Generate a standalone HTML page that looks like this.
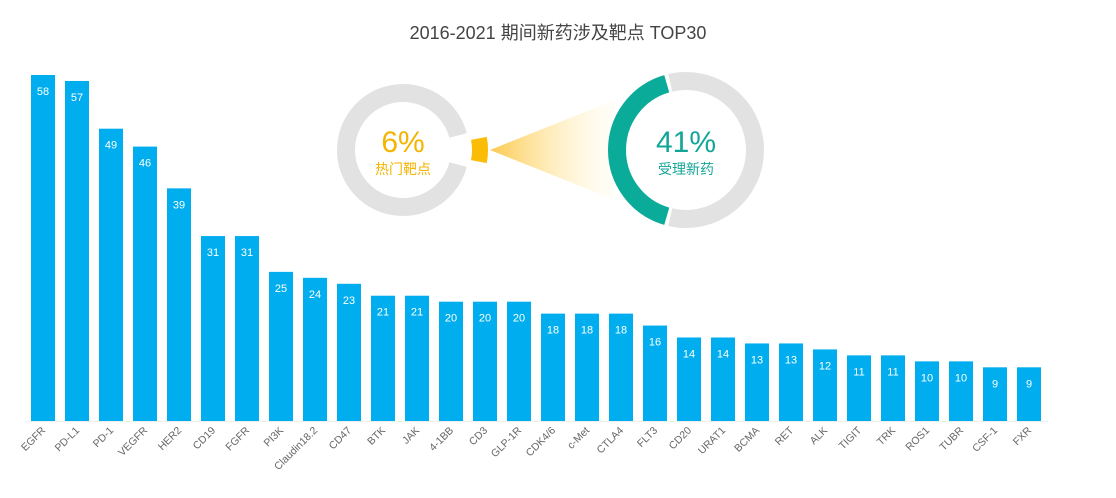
<!DOCTYPE html>
<html><head><meta charset="utf-8"><style>
html,body{margin:0;padding:0;background:#fff;}
svg{display:block;font-family:"Liberation Sans","Noto Sans CJK SC",sans-serif;}
</style></head><body>
<svg id="chart" width="1116" height="498" viewBox="0 0 1116 498">
<defs>
<linearGradient id="cone" x1="0" y1="0" x2="1" y2="0">
<stop offset="0" stop-color="#fbc02d" stop-opacity="0.85"/>
<stop offset="1" stop-color="#fff3c4" stop-opacity="0.1"/>
</linearGradient>
</defs>
<text x="558" y="39" text-anchor="middle" font-size="18" fill="#444">2016-2021 期间新药涉及靶点 TOP30</text>
<line x1="25" y1="421.5" x2="1048" y2="421.5" stroke="#eee"/>
<g id="bars"></g>
<g id="donuts"></g>
</svg>
<script>
const categories=["EGFR","PD-L1","PD-1","VEGFR","HER2","CD19","FGFR","PI3K","Claudin18.2","CD47","BTK","JAK","4-1BB","CD3","GLP-1R","CDK4/6","c-Met","CTLA4","FLT3","CD20","URAT1","BCMA","RET","ALK","TIGIT","TRK","ROS1","TUBR","CSF-1","FXR"];
const values=[58,57,49,46,39,31,31,25,24,23,21,21,20,20,20,18,18,18,16,14,14,13,13,12,11,11,10,10,9,9];
const hotPct=6;
const acceptedPct=41;
const NS="http://www.w3.org/2000/svg";
const base=421, scale=346/58, x0=31, pitch=34, bw=24;
const yS=v=>base-v*scale;
const xS=i=>x0+i*pitch;
const g=document.getElementById('bars');
function mk(t,a,p){const e=document.createElementNS(NS,t);for(const k in a)e.setAttribute(k,a[k]);(p||g).appendChild(e);return e;}
values.forEach((v,i)=>{
 const r=mk('rect',{x:xS(i),y:yS(v),width:bw,height:base-yS(v),fill:'#00aeef'});
 
 
 const t=mk('text',{x:xS(i)+bw/2,y:yS(v)+20,'text-anchor':'middle','font-size':11,fill:'#fff'});
 t.textContent=v;
 
 
 const cx=xS(i)+bw/2+3, cy=base+10;
 const l=mk('text',{x:cx,y:cy,'text-anchor':'end','font-size':10.5,fill:'#666',transform:`rotate(-45 ${cx} ${cy})`});
 l.textContent=categories[i];
 
 
});
const d=document.getElementById('donuts');
function arc(cx,cy,r,a0,a1){
 const p=a=>[cx+r*Math.sin(a*Math.PI/180),cy-r*Math.cos(a*Math.PI/180)];
 const [x1,y1]=p(a0),[x2,y2]=p(a1);
 return `M${x1},${y1} A${r},${r} 0 ${(a1-a0)>180?1:0} 1 ${x2},${y2}`;
}
const cone=mk('polygon',{points:"490,150 615,100 615,200",fill:"url(#cone)"},d);


const lc=[403,150], lr=57;
const hotDeg=hotPct*3.6;
const lg=mk('path',{d:arc(lc[0],lc[1],lr,90+hotDeg/2+4,90-hotDeg/2-4+360),fill:'none',stroke:'#e2e2e2','stroke-width':18},d);


const hs=mk('path',{d:arc(lc[0]+15,lc[1],lr+5,90-hotDeg/2,90+hotDeg/2),fill:'none',stroke:'#fbbc05','stroke-width':16},d);


let t=mk('text',{x:lc[0],y:lc[1]+2,'text-anchor':'middle','font-size':30,fill:'#f4b400'},d);t.textContent=hotPct+'%';


t=mk('text',{x:lc[0],y:lc[1]+24,'text-anchor':'middle','font-size':14,fill:'#f4b400'},d);t.textContent='热门靶点';


const rc=[686,150], rr=69;
const accDeg=acceptedPct*3.6;
const ra0=270-accDeg/2, ra1=270+accDeg/2;
const rg=mk('path',{d:arc(rc[0],rc[1],rr,ra1+3-360,ra0-3),fill:'none',stroke:'#e2e2e2','stroke-width':18},d);


const ra=mk('path',{d:arc(rc[0],rc[1],rr,ra0,ra1),fill:'none',stroke:'#0bab9a','stroke-width':18},d);


t=mk('text',{x:rc[0],y:rc[1]+2,'text-anchor':'middle','font-size':30,fill:'#13a597'},d);t.textContent=acceptedPct+'%';


t=mk('text',{x:rc[0],y:rc[1]+24,'text-anchor':'middle','font-size':14,fill:'#13a597'},d);t.textContent='受理新药';


</script>
</body></html>
